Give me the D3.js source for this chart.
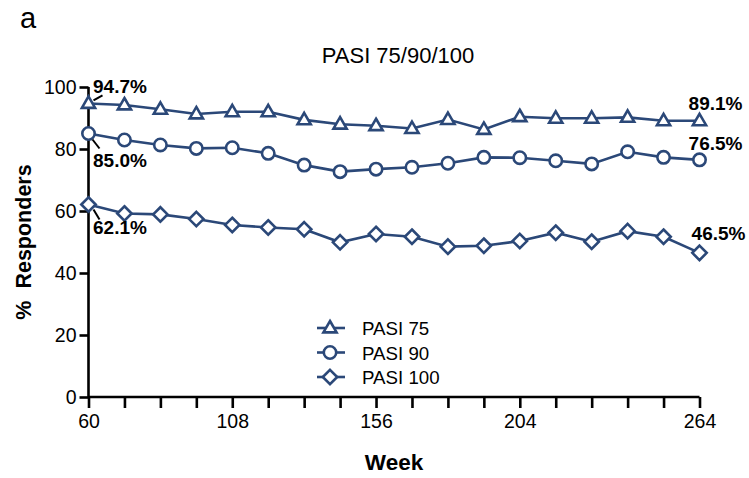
<!DOCTYPE html>
<html>
<head>
<meta charset="utf-8">
<script src="https://cdnjs.cloudflare.com/ajax/libs/d3/7.8.5/d3.min.js"></script>
<style>
  body { margin: 0; background: #fff; }
  text { font-family: "Liberation Sans", Arial, sans-serif; fill: #000; }
</style>
</head>
<body>
<div id="chart"></div>
<script>
var weeks = [60, 72, 84, 96, 108, 120, 132, 144, 156, 168, 180, 192, 204, 216, 228, 240, 252, 264];
var pasi75 = [94.7, 94.2, 92.8, 91.3, 92.0, 92.0, 89.4, 88.0, 87.5, 86.6, 89.5, 86.3, 90.4, 89.9, 89.9, 90.2, 89.1, 89.1];
var pasi90 = [85.0, 82.9, 81.3, 80.2, 80.4, 78.6, 74.8, 72.7, 73.5, 74.1, 75.4, 77.3, 77.2, 76.2, 75.2, 79.1, 77.3, 76.5];
var pasi100 = [62.1, 59.2, 58.9, 57.4, 55.5, 54.7, 54.1, 49.9, 52.6, 51.7, 48.5, 48.8, 50.3, 53.0, 50.1, 53.5, 51.7, 46.5];
var seriesNames = ["PASI 75", "PASI 90", "PASI 100"];
var xTickLabels = [60, 108, 156, 204, 264];
var yTicks = [0, 20, 40, 60, 80, 100];

var color = "#2b4878";
var W = 749, H = 478;

var svg = d3.select("#chart").append("svg")
    .attr("width", W).attr("height", H);

var x = d3.scaleLinear().domain([60, 264]).range([88.5, 699.5]);
var y = d3.scaleLinear().domain([0, 100]).range([397, 87]);

// marker shapes
function markerPath(kind) {
  if (kind == 0) return "M0,-7L6.6,4.4L-6.6,4.4Z";
  if (kind == 1) return d3.symbol().type(d3.symbolCircle).size(Math.PI * 6.2 * 6.2)();
  return "M0,-7.2L7.2,0L0,7.2L-7.2,0Z";
}

var series = [pasi75, pasi90, pasi100];

// axes
var yAxis = svg.append("g").attr("transform", "translate(" + x(60) + ",0)")
  .call(d3.axisLeft(y).tickValues(yTicks).tickSize(9).tickPadding(3).tickFormat(d3.format("d")));
var xAxis = svg.append("g").attr("transform", "translate(0," + y(0) + ")")
  .call(d3.axisBottom(x).tickValues(weeks).tickSize(11).tickPadding(6)
    .tickFormat(function(d) { return xTickLabels.indexOf(d) >= 0 ? d : ""; }));

[yAxis, xAxis].forEach(function(a) {
  a.select(".domain").attr("stroke", "#000").attr("stroke-width", 2.6);
  a.selectAll(".tick line").attr("stroke", "#000").attr("stroke-width", 2.6);
  a.selectAll(".tick text").style("font-size", "19.5px").attr("font-family", null);
});
yAxis.select(".domain").attr("d", "M0," + y(0) + "V" + y(100));
xAxis.select(".domain").attr("d", "M" + x(60) + ",0H" + x(264));

// lines + markers
var line = d3.line().x(function(d, i) { return x(weeks[i]); }).y(function(d) { return y(d); });

series.forEach(function(s, k) {
  svg.append("path").datum(s)
    .attr("d", line)
    .attr("fill", "none")
    .attr("stroke", color)
    .attr("stroke-width", 2.6);

  svg.selectAll(".m" + k).data(s).enter().append("path")
    .attr("class", "m" + k)
    .attr("d", markerPath(k))
    .attr("transform", function(d, i) { return "translate(" + x(weeks[i]) + "," + y(d) + ")"; })
    .attr("fill", "#fff")
    .attr("stroke", color)
    .attr("stroke-width", 2.6);
});

// value labels at first and last points
var first = series.map(function(s) { return s[0]; });
var last = series.map(function(s) { return s[s.length - 1]; });
var firstDy = [-10, 33, 30];
var leader = [[5, -3, 14, -8], [4, 6, 11, 15], [5, 5, 11, 15]];
first.forEach(function(v, k) {
  var cx = x(weeks[0]), cy = y(v);
  svg.append("line")
    .attr("x1", cx + leader[k][0]).attr("y1", cy + leader[k][1])
    .attr("x2", cx + leader[k][2]).attr("y2", cy + leader[k][3])
    .attr("stroke", "#000").attr("stroke-width", 2);
  svg.append("text")
    .attr("x", cx + 4.5).attr("y", cy + firstDy[k])
    .style("font-size", "19px").style("font-weight", "bold")
    .text(v.toFixed(1) + "%");
});
var lastDy = [-11, -10, -13];
last.forEach(function(v, k) {
  svg.append("text")
    .attr("x", x(264) + (k == 2 ? 19 : 16)).attr("y", y(v) + lastDy[k])
    .attr("text-anchor", "middle")
    .style("font-size", "19px").style("font-weight", "bold")
    .text(v.toFixed(1) + "%");
});

// legend
var legend = svg.append("g").attr("transform", "translate(317,328)");
seriesNames.forEach(function(name, k) {
  var g = legend.append("g").attr("transform", "translate(0," + (k * 24.5) + ")");
  g.append("line").attr("x1", 0).attr("x2", 28).attr("stroke", color).attr("stroke-width", 2.6);
  g.append("path").attr("d", markerPath(k)).attr("transform", "translate(13,0)")
    .attr("fill", "#fff").attr("stroke", color).attr("stroke-width", 2.6);
  g.append("text").attr("x", 45).attr("y", 7).style("font-size", "18.7px").text(name);
});

// titles
svg.append("text").attr("x", 20).attr("y", 28).style("font-size", "29px").text("a");
svg.append("text").attr("x", 398).attr("y", 63).attr("text-anchor", "middle")
  .style("font-size", "22px").text("PASI 75/90/100");
svg.append("text").attr("x", 394).attr("y", 470).attr("text-anchor", "middle")
  .style("font-size", "22.5px").style("font-weight", "bold").text("Week");
svg.append("text")
  .attr("transform", "translate(31,242) rotate(-90)")
  .attr("text-anchor", "middle")
  .style("font-size", "21.5px").style("font-weight", "bold").style("white-space", "pre")
  .text("%  Responders");
</script>
</body>
</html>
